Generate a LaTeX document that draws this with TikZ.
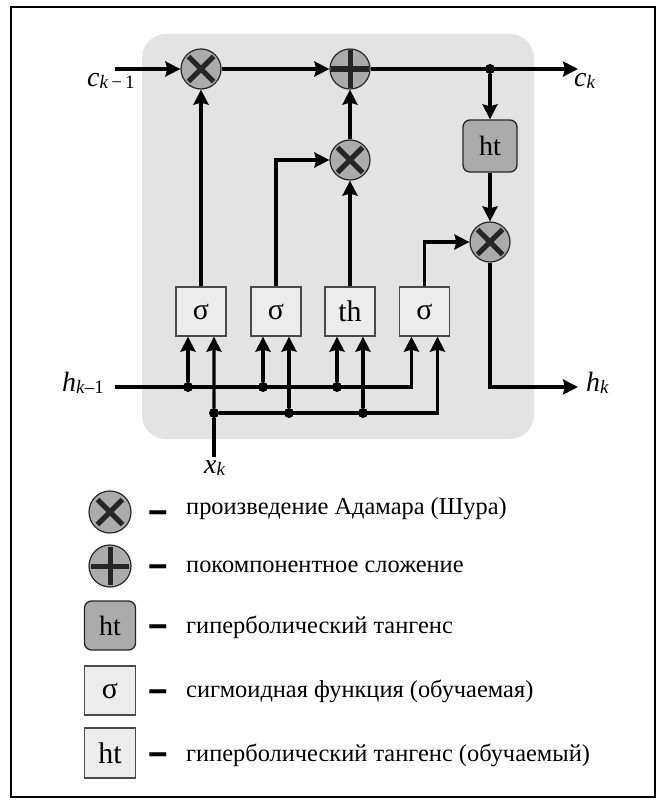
\documentclass[tikz,border=0pt]{standalone}
\usepackage{fontspec}
\setmainfont{Liberation Serif}
\newfontfamily\dashfont{DejaVu Sans}
\usetikzlibrary{arrows.meta}
\definecolor{cellbg}{HTML}{E3E3E3}
\definecolor{opfill}{HTML}{ABABAB}
\definecolor{gatefill}{HTML}{ECECEC}
\definecolor{gateline}{HTML}{4A4A4A}
% variable with a subscript, e.g. c_{k-1}
\newcommand\varsub[2]{{\fontsize{28}{28}\selectfont\textit{#1}}\raisebox{-0.28em}{\fontsize{19}{19}\selectfont #2}}
\begin{document}
\begin{tikzpicture}[x=1bp,y=-1bp,
  wire/.style={line width=3.2bp},
  arr/.style={wire,-{Stealth[length=15bp,width=15bp,inset=2bp]}},
  junction/.style={circle,fill=black,inner sep=0pt,minimum size=10bp},
  opnode/.style={circle,draw=black!85,line width=1.2bp,fill=opfill,
    minimum size=40bp,inner sep=0pt},
  mulop/.style={opnode,path picture={
    \draw[line width=5bp]
      ([shift={(-12.5bp,-12.5bp)}]path picture bounding box.center) --
      ([shift={(12.5bp,12.5bp)}]path picture bounding box.center)
      ([shift={(-12.5bp,12.5bp)}]path picture bounding box.center) --
      ([shift={(12.5bp,-12.5bp)}]path picture bounding box.center);}},
  addop/.style={opnode,path picture={
    \draw[line width=5bp]
      ([shift={(-19bp,0bp)}]path picture bounding box.center) --
      ([shift={(19bp,0bp)}]path picture bounding box.center)
      ([shift={(0bp,-19bp)}]path picture bounding box.center) --
      ([shift={(0bp,19bp)}]path picture bounding box.center);}},
  actbox/.style={draw=black!85,line width=1.3bp,fill=opfill,rounded corners=7bp,
    minimum width=54bp,minimum height=52bp,inner sep=0pt,
    font=\fontsize{28}{28}\selectfont},
  gatebox/.style={draw=gateline,line width=1.3bp,fill=gatefill,
    minimum width=50bp,minimum height=49bp,inner sep=0pt,
    font=\fontsize{30}{30}\selectfont},
  legtext/.style={anchor=base west,inner sep=0pt,font=\fontsize{24.5}{24.5}\selectfont},
  legdash/.style={inner sep=0pt,font=\fontsize{32}{32}\selectfont\dashfont\bfseries},
  varlbl/.style={inner sep=0pt}
]
\useasboundingbox (0,0) rectangle (664,803);
% outer frame
\draw[line width=2.5bp] (11,7) rectangle (655,797);
% cell body
\fill[cellbg,rounded corners=24bp] (142,34) rectangle (534,439);

% pointwise operations and the tanh block
\node[mulop] (fmul) at (201,69) {};
\node[addop] (cadd) at (350,69) {};
\node[mulop] (imul) at (350,160) {};
\node[mulop] (omul) at (490,242) {};
\node[actbox] (ctanh) at (490,146) {ht};

% gates
\node[gatebox] (g1) at (201,311.5) {σ};
\node[gatebox] (g2) at (276,311.5) {σ};
\node[gatebox] (g3) at (350,311.5) {th};
\node[gatebox] (g4) at (424.5,311.5) {σ};

% gate input points
\foreach \g in {g1,g2,g3,g4}{
  \coordinate (\g l) at ([xshift=-13bp]\g.south);
  \coordinate (\g r) at ([xshift=13bp]\g.south);
}

% terminals
\coordinate (cin) at (115,69);
\coordinate (cout) at (578,69);
\coordinate (hin) at (115,387);
\coordinate (hout) at (578,387);
\coordinate (xin) at (214,457);
\node[junction] (csplit) at (490,69) {};

% cell state path
\draw[arr] (cin) -- (fmul);
\draw[arr] (fmul) -- (cadd);
\draw[arr] (cadd) -- (cout);
\draw[arr] (csplit) -- (ctanh);
\draw[arr] (ctanh) -- (omul);
\draw[arr] (omul) |- (hout);

% gate outputs
\draw[arr] (g1.north) -- (fmul);
\draw[arr] (g2.north) |- (imul);
\draw[arr] (g3.north) -- (imul);
\draw[arr] (imul) -- (cadd);
\draw[arr] (g4.north) |- (omul);

% h_{k-1} bus
\node[junction] (hd1) at (g1l |- hin) {};
\node[junction] (hd2) at (g2l |- hin) {};
\node[junction] (hd3) at (g3l |- hin) {};
\draw[arr] (hin) -| (g4l);
\draw[arr] (hd1) -- (g1l);
\draw[arr] (hd2) -- (g2l);
\draw[arr] (hd3) -- (g3l);

% x_k bus
\node[junction] (xd1) at (214,413) {};
\node[junction] (xd2) at (g2r |- xd1) {};
\node[junction] (xd3) at (g3r |- xd1) {};
\draw[wire] (xin) -- (xd1);
\draw[arr] (xd1) -- (g1r);
\draw[arr] (xd1) -| (g4r);
\draw[arr] (xd2) -- (g2r);
\draw[arr] (xd3) -- (g3r);

% terminal labels
\node[varlbl,anchor=base west] (lcin) at (87,86) {\varsub{c}{\textit{k}\,−\,1}};
\node[varlbl,anchor=base west] (lcout) at (574,86) {\varsub{c}{\textit{k}}};
\node[varlbl,anchor=base east] (lhin) at (104,391) {\varsub{h}{\textit{k}–1}};
\node[varlbl,anchor=base west] (lhout) at (586,391) {\varsub{h}{\textit{k}}};
\node[varlbl,anchor=base west] (lxin) at (204,473) {\varsub{x}{\textit{k}}};

% legend
\node[mulop,minimum size=42bp] (kmul) at (110,512) {};
\node[addop,minimum size=42bp] (kadd) at (110,566) {};
\node[actbox,minimum width=51bp,minimum height=49bp] (kact) at (110,625.5) {ht};
\node[gatebox,minimum width=51bp,minimum height=49bp] (ksig) at (110,690.5) {σ};
\node[gatebox,minimum width=51bp,minimum height=50bp] (ktan) at (110,753) {ht};

\foreach \r/\y in {1/512,2/566,3/626,4/691,5/754}
  \node[legdash] (dash\r) at (158,\y) {\smash{\raisebox{-0.3em}{\scalebox{1.35}[1]{–}}}};

\node[legtext] (t1) at (186,514) {произведение Адамара (Шура)};
\node[legtext] (t2) at (186,572) {покомпонентное сложение};
\node[legtext] (t3) at (186,633) {гиперболический тангенс};
\node[legtext] (t4) at (186,697) {сигмоидная функция (обучаемая)};
\node[legtext] (t5) at (186,761) {гиперболический тангенс (обучаемый)};
\end{tikzpicture}
\end{document}
